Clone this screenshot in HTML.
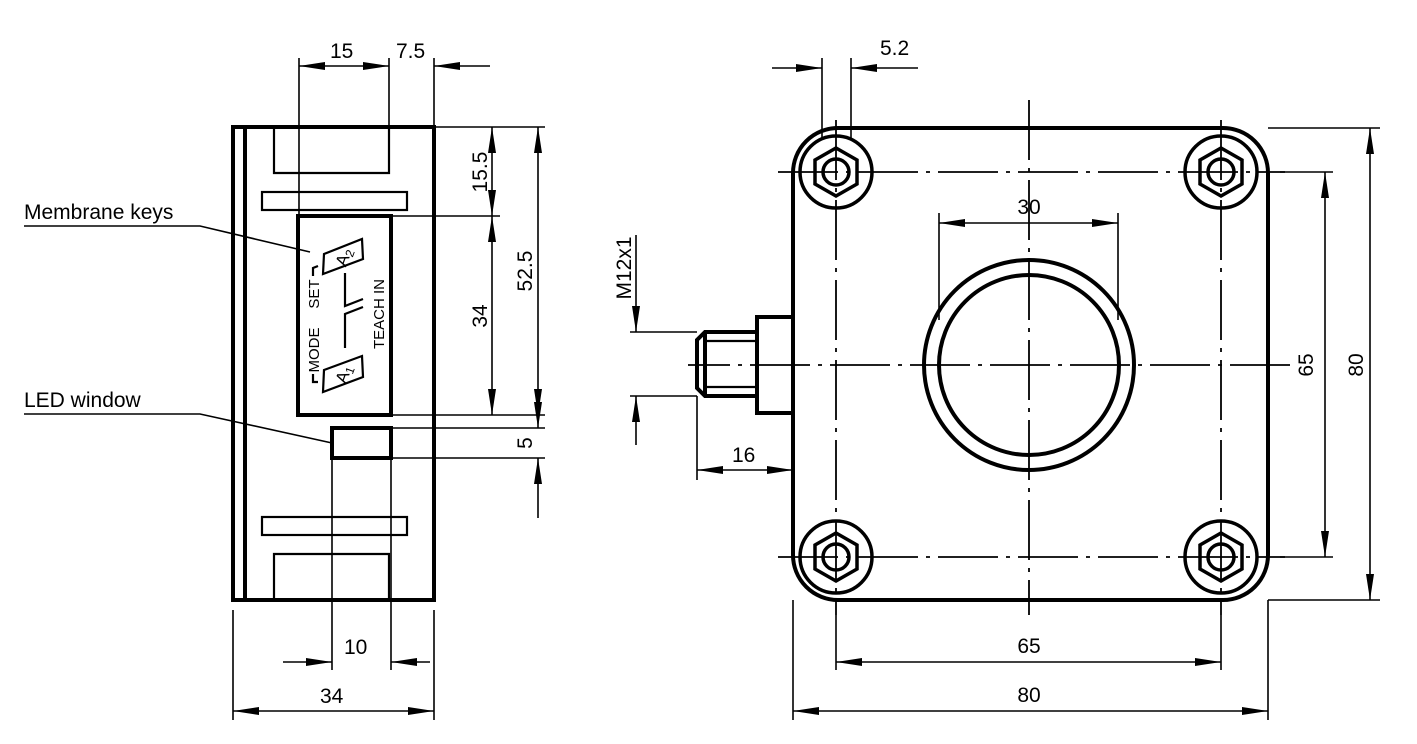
<!DOCTYPE html>
<html><head><meta charset="utf-8"><style>
html,body{margin:0;padding:0;background:#fff;width:1417px;height:744px;overflow:hidden}
svg{display:block}
text{font-family:"Liberation Sans",Arial,sans-serif;fill:#000}
</style></head><body>
<svg width="1417" height="744" viewBox="0 0 1417 744" xmlns="http://www.w3.org/2000/svg">
<defs>
<marker id="a" viewBox="0 0 26 8" refX="26" refY="4" markerWidth="26" markerHeight="8" markerUnits="userSpaceOnUse" orient="auto"><path d="M0,0 L26,4 L0,8 z" fill="#000"/></marker>
</defs>
<g fill="none" stroke="#000">
<!-- LEFT VIEW -->
<g stroke-width="4">
<rect x="233" y="127" width="201" height="473"/>
<line x1="245" y1="127" x2="245" y2="600"/>
<rect x="298" y="216" width="93" height="199"/>
<rect x="332" y="428" width="59" height="30"/>
</g>
<g stroke-width="2.2">
<polyline points="274,127 274,173 389,173 389,127"/>
<rect x="262" y="192" width="145" height="18"/>
<rect x="262" y="517" width="145" height="18"/>
<polyline points="274,600 274,554 389,554 389,600"/>
</g>
<g stroke-width="1.6">
<line x1="299" y1="58" x2="299" y2="216"/>
<line x1="389" y1="58" x2="389" y2="127"/>
<line x1="434" y1="58" x2="434" y2="127"/>
<line x1="340" y1="66" x2="299" y2="66" marker-end="url(#a)"/>
<line x1="340" y1="66" x2="389" y2="66" marker-end="url(#a)"/>
<line x1="490" y1="66" x2="434" y2="66" marker-end="url(#a)"/>
<line x1="434" y1="127" x2="545" y2="127"/>
<line x1="391" y1="216" x2="500" y2="216"/>
<line x1="391" y1="415" x2="545" y2="415"/>
<line x1="391" y1="428" x2="545" y2="428"/>
<line x1="391" y1="458" x2="545" y2="458"/>
<line x1="492" y1="170" x2="492" y2="127" marker-end="url(#a)"/>
<line x1="492" y1="170" x2="492" y2="216" marker-end="url(#a)"/>
<line x1="492" y1="320" x2="492" y2="216" marker-end="url(#a)"/>
<line x1="492" y1="320" x2="492" y2="415" marker-end="url(#a)"/>
<line x1="538" y1="270" x2="538" y2="127" marker-end="url(#a)"/>
<line x1="538" y1="270" x2="538" y2="415" marker-end="url(#a)"/>
<line x1="538" y1="400" x2="538" y2="428" marker-end="url(#a)"/>
<line x1="538" y1="518" x2="538" y2="458" marker-end="url(#a)"/>
<line x1="332" y1="458" x2="332" y2="670"/>
<line x1="391" y1="458" x2="391" y2="670"/>
<line x1="233" y1="610" x2="233" y2="720"/>
<line x1="434" y1="610" x2="434" y2="720"/>
<line x1="283" y1="662" x2="332" y2="662" marker-end="url(#a)"/>
<line x1="430" y1="662" x2="391" y2="662" marker-end="url(#a)"/>
<line x1="330" y1="711" x2="233" y2="711" marker-end="url(#a)"/>
<line x1="330" y1="711" x2="434" y2="711" marker-end="url(#a)"/>
<polyline points="24,226 200,226 310,252"/>
<polyline points="24,414 200,414 332,443"/>
</g>
<!-- membrane symbols -->
<g stroke-width="2.2">
<polygon points="323,392 324,370 362,356 363,377"/>
<polygon points="323,274 324,254 362,239 363,259"/>
<polyline points="345,273 345,306 363,299"/>
<polyline points="363,307 345,314 345,348"/>
<polyline points="313,276 313,268 318,266"/>
<polyline points="313,374 313,382 318,382"/>
</g>
<!-- RIGHT VIEW -->
<rect x="793" y="128" width="475" height="472" rx="45" stroke-width="4"/>
<g stroke-width="4">
<circle cx="1029" cy="365" r="105"/>
<circle cx="1029" cy="365" r="90"/>
<rect x="757" y="317" width="36" height="96"/>
<polyline points="757,332 705,332 697,340 697,388 705,396 757,396"/>
<line x1="705" y1="332" x2="705" y2="396"/>
</g>
<g stroke-width="2.2">
<line x1="705" y1="341" x2="757" y2="341"/>
<line x1="705" y1="387" x2="757" y2="387"/>
</g>
<g stroke-width="3.5">
<g transform="translate(836,172)"><circle r="36"/><polygon points="0,-24 21,-12 21,12 0,24 -21,12 -21,-12"/><circle r="13"/></g>
<g transform="translate(1221,172)"><circle r="36"/><polygon points="0,-24 21,-12 21,12 0,24 -21,12 -21,-12"/><circle r="13"/></g>
<g transform="translate(836,557)"><circle r="36"/><polygon points="0,-24 21,-12 21,12 0,24 -21,12 -21,-12"/><circle r="13"/></g>
<g transform="translate(1221,557)"><circle r="36"/><polygon points="0,-24 21,-12 21,12 0,24 -21,12 -21,-12"/><circle r="13"/></g>
</g>
<g stroke-width="1.8" stroke-dasharray="60,8,4,8">
<line x1="778" y1="172" x2="1285" y2="172"/>
<line x1="778" y1="557" x2="1285" y2="557"/>
<line x1="1290" y1="365" x2="688" y2="365"/>
<line x1="836" y1="120" x2="836" y2="615"/>
<line x1="1221" y1="120" x2="1221" y2="615"/>
<line x1="1029" y1="100" x2="1029" y2="615"/>
</g>
<g stroke-width="1.6">
<line x1="822" y1="58" x2="822" y2="140"/>
<line x1="851" y1="58" x2="851" y2="140"/>
<line x1="772" y1="68" x2="822" y2="68" marker-end="url(#a)"/>
<line x1="918" y1="68" x2="851" y2="68" marker-end="url(#a)"/>
<line x1="939" y1="213" x2="939" y2="320"/>
<line x1="1118" y1="213" x2="1118" y2="320"/>
<line x1="1029" y1="223" x2="939" y2="223" marker-end="url(#a)"/>
<line x1="1029" y1="223" x2="1118" y2="223" marker-end="url(#a)"/>
<line x1="1268" y1="128" x2="1380" y2="128"/>
<line x1="1280" y1="172" x2="1333" y2="172"/>
<line x1="1280" y1="557" x2="1333" y2="557"/>
<line x1="1268" y1="600" x2="1380" y2="600"/>
<line x1="1325" y1="365" x2="1325" y2="172" marker-end="url(#a)"/>
<line x1="1325" y1="365" x2="1325" y2="557" marker-end="url(#a)"/>
<line x1="1370" y1="365" x2="1370" y2="128" marker-end="url(#a)"/>
<line x1="1370" y1="365" x2="1370" y2="600" marker-end="url(#a)"/>
<line x1="836" y1="615" x2="836" y2="670"/>
<line x1="1221" y1="615" x2="1221" y2="670"/>
<line x1="793" y1="600" x2="793" y2="720"/>
<line x1="1268" y1="600" x2="1268" y2="720"/>
<line x1="1029" y1="662" x2="836" y2="662" marker-end="url(#a)"/>
<line x1="1029" y1="662" x2="1221" y2="662" marker-end="url(#a)"/>
<line x1="1029" y1="711" x2="793" y2="711" marker-end="url(#a)"/>
<line x1="1029" y1="711" x2="1268" y2="711" marker-end="url(#a)"/>
<line x1="630" y1="332" x2="697" y2="332"/>
<line x1="630" y1="396" x2="697" y2="396"/>
<line x1="636" y1="235" x2="636" y2="332" marker-end="url(#a)"/>
<line x1="636" y1="445" x2="636" y2="396" marker-end="url(#a)"/>
<line x1="697" y1="396" x2="697" y2="480"/>
<line x1="745" y1="470" x2="697" y2="470" marker-end="url(#a)"/>
<line x1="745" y1="470" x2="793" y2="470" marker-end="url(#a)"/>
</g>
</g>
<g font-size="21">
<text x="24" y="219">Membrane keys</text>
<text x="24" y="407">LED window</text>
<text x="330" y="58">15</text>
<text x="396" y="58">7.5</text>
<text x="344" y="654">10</text>
<text x="320" y="703">34</text>
<text transform="translate(487,172) rotate(-90)" text-anchor="middle">15.5</text>
<text transform="translate(487,316) rotate(-90)" text-anchor="middle">34</text>
<text transform="translate(532,271) rotate(-90)" text-anchor="middle">52.5</text>
<text transform="translate(532,443) rotate(-90)" text-anchor="middle">5</text>
<text x="880" y="55">5.2</text>
<text x="1029" y="214" text-anchor="middle">30</text>
<text x="1029" y="653" text-anchor="middle">65</text>
<text x="1029" y="702" text-anchor="middle">80</text>
<text transform="translate(1313,365) rotate(-90)" text-anchor="middle">65</text>
<text transform="translate(1363,365) rotate(-90)" text-anchor="middle">80</text>
<text transform="translate(631,268) rotate(-90)" text-anchor="middle">M12x1</text>
<text x="732" y="462">16</text>
</g>
<g font-size="15">
<text transform="translate(319,350) rotate(-90)" text-anchor="middle">MODE</text>
<text transform="translate(319,294) rotate(-90)" text-anchor="middle">SET</text>
<text transform="translate(384,314) rotate(-90)" text-anchor="middle">TEACH IN</text>
<text transform="translate(349,376) rotate(-70)" text-anchor="middle" font-size="17">A<tspan font-size="12" dy="3">1</tspan></text>
<text transform="translate(349,259) rotate(-70)" text-anchor="middle" font-size="17">A<tspan font-size="12" dy="3">2</tspan></text>
</g>
</svg>
</body></html>
